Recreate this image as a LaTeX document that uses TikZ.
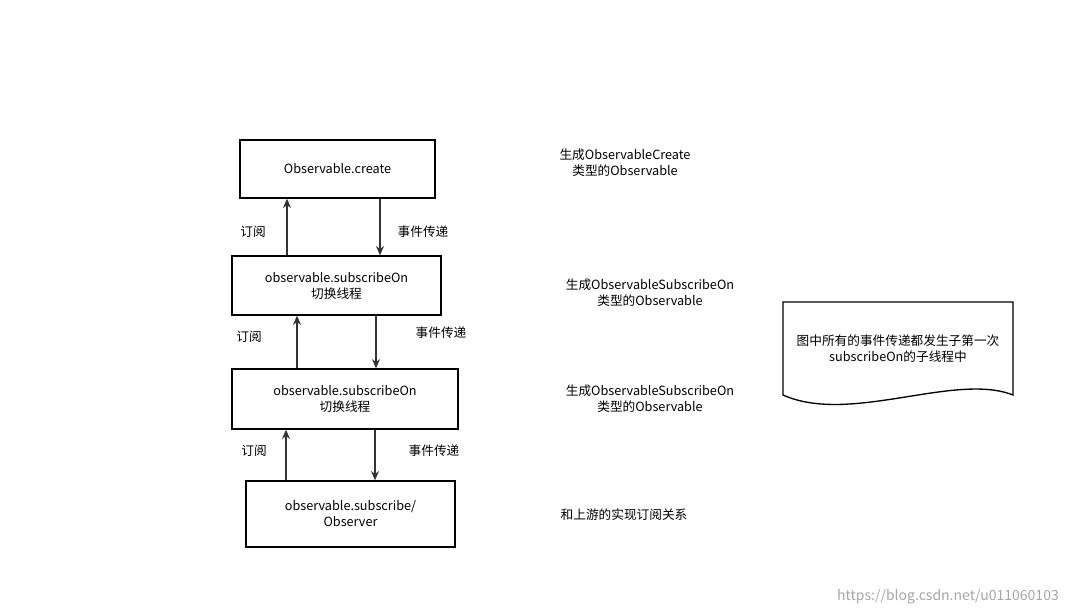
\documentclass[tikz,border=0pt]{standalone}
\usepackage{fontspec}
\setmainfont{Noto Sans CJK SC}
\usetikzlibrary{arrows.meta}

\begin{document}
\begin{tikzpicture}[x=0.75pt,y=-0.75pt,
    box/.style={draw, line width=1pt, inner sep=0pt, align=center, font=\fontsize{9.5}{12}\selectfont},
    lbl/.style={align=center, font=\fontsize{9.5}{12}\selectfont},
    arr/.style={-{Stealth[length=7pt,width=6pt]}, line width=1.1pt, draw=black!80}]
      \useasboundingbox (0,0) rectangle (1074,615);
      % Kette der Observables
      \node[box, minimum width=195*0.75pt, minimum height=58*0.75pt] (create) at (337.5,169) {Observable.create};
      \node[box, minimum width=209*0.75pt, minimum height=59*0.75pt] (sub1) at (336.5,285.5) {observable.subscribeOn\\切换线程};
      \node[box, minimum width=226*0.75pt, minimum height=60*0.75pt] (sub2) at (345,399) {observable.subscribeOn\\切换线程};
      \node[box, minimum width=209*0.75pt, minimum height=66*0.75pt] (obs) at (350.5,514) {observable.subscribe/\\Observer};

      % Pfeile
      \draw[arr] (sub1.north -| 287,0) -- (create.south -| 287,0);
      \draw[arr] (create.south -| 380,0) -- (sub1.north -| 380,0);
      \node[lbl] (s1) at (253,232) {订阅};
      \node[lbl] (e1) at (423,232) {事件传递};
      \draw[arr] (sub2.north -| 297,0) -- (sub1.south -| 297,0);
      \draw[arr] (sub1.south -| 376,0) -- (sub2.north -| 376,0);
      \node[lbl] (s2) at (249,337) {订阅};
      \node[lbl] (e2) at (441,333) {事件传递};
      \draw[arr] (obs.north -| 286,0) -- (sub2.south -| 286,0);
      \draw[arr] (sub2.south -| 375,0) -- (obs.north -| 375,0);
      \node[lbl] (s3) at (254,451) {订阅};
      \node[lbl] (e3) at (434,451) {事件传递};

      % Beschreibungen
      \node[lbl] (d1) at (625,163) {生成ObservableCreate\\类型的Observable};
      \node[lbl] (d2) at (650,293) {生成ObservableSubscribeOn\\类型的Observable};
      \node[lbl] (d3) at (650,399) {生成ObservableSubscribeOn\\类型的Observable};
      \node[lbl] (d4) at (624,515) {和上游的实现订阅关系};

      % Notiz
      \draw[line width=1pt] (783,302) -- (1013,302) -- (1013,395)
        .. controls (955,372) and (850,425) .. (783,395) -- cycle;
      \node[lbl] (note) at (898,349) {图中所有的事件传递都发生子第一次\\subscribeOn的子线程中};

      \node[lbl, text=black!35, font=\fontsize{10.5}{12}\selectfont] (mark) at (948,597) {https://blog.csdn.net/u011060103};
\end{tikzpicture}
\end{document}
